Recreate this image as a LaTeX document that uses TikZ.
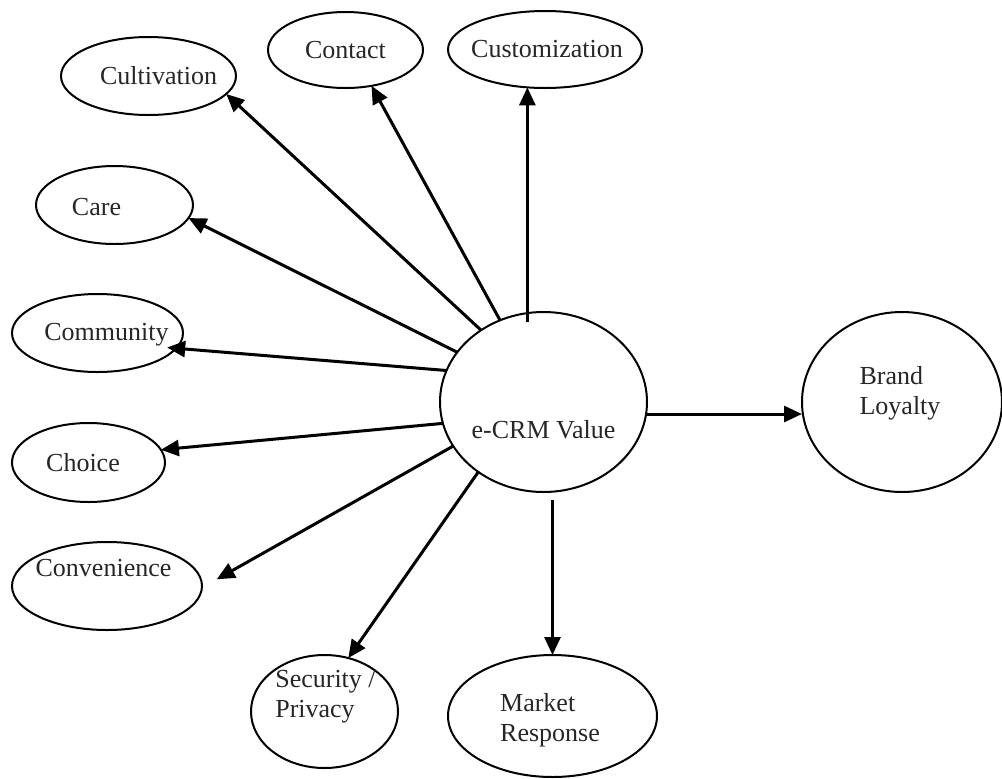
\documentclass[tikz,border=0pt]{standalone}
\usepackage{fontspec}
\setmainfont{Liberation Serif}
\usetikzlibrary{shapes.geometric,arrows.meta}

\begin{document}
\begin{tikzpicture}[x=0.5pt,y=-0.5pt,
	oval/.style={ellipse,draw,line width=1pt,inner sep=0pt,outer sep=0pt},
	txt/.style={font=\fontsize{13}{15}\selectfont,text=black!85,align=left,inner sep=0pt},
	arr/.style={-{Triangle[length=9pt,width=8pt]},line width=1.5pt}]
	%
	\useasboundingbox (0,0) rectangle (1002,778);
	%
	% name/x/y/width/height/text shift x/text shift y/text
	\foreach \n/\x/\y/\w/\h/\dx/\dy/\t in {%
		cult/148.5/76/87.5/39/5/0/Cultivation,
		cont/345.5/50/77.5/38/0/0/Contact,
		cust/545/49.5/97/38.5/1/0/Customization,
		care/114.5/205/78.5/39/-9/-1/Care,
		comm/97.5/333/85.5/39/4.5/-1/Community,
		choi/88.5/462.5/76.5/39.5/-2.75/0/Choice,
		conv/107/586/95/44/-1.75/9/Convenience,
		secu/324.5/711.5/73.5/56.5/0.5/7.25/{Security /\\Privacy},
		mkt/552.5/716/104.5/61/-1.25/-2/{Market\\Response},
		ecrm/543.5/402/103.5/90/0/-14/e-CRM Value,
		brand/902/402/100/90/-1/4.25/{Brand\\Loyalty}}
		\node [oval,minimum width=\w pt,minimum height=\h pt,
			label={[txt,xshift=\dx pt,yshift=\dy pt]center:\t}] (\n) at (\x,\y) {};
	%
	\foreach \a/\n/\b/\s in {131/cult/-13.5/0pt,118/cont/-54/0pt,150/care/-10/0pt,
		162/comm/-11/-4.5pt,192/choi/10/0pt,206/conv/-1/8.5pt,227/secu/66/0pt}
		\draw [arr,shorten >=\s] (ecrm.\a) -- (\n.\b);
	%
	\draw [arr,shorten <=-5pt] (cust.-115.5 |- ecrm.north) -- (cust.-115.5);
	\draw [arr,shorten <=4pt] (mkt.north |- ecrm.south) -- (mkt.north);
	\draw [arr] ([yshift=-6pt]ecrm.east) -- ([yshift=-6pt]brand.west);
\end{tikzpicture}
\end{document}
